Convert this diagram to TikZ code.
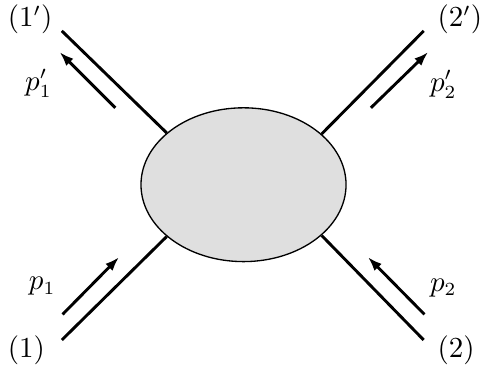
\documentclass[tikz,border=0pt]{standalone}
\usepackage{amsmath}
\usepackage{tikz}
\usetikzlibrary{shapes.geometric,arrows.meta,positioning}

\begin{document}
\begin{tikzpicture}[
  >=Latex,
  blobshape/.style={ellipse,draw=black,line width=0.5pt,fill=gray!25,
    minimum width=2.72cm,minimum height=2.04cm,inner sep=0pt},
  leg/.style={line width=1.1pt},
  mom/.style={-{Latex[length=5.4pt,width=3.8pt]},line width=1.1pt},
  lbl/.style={inner sep=0pt,font=\fontsize{10.6}{13}\selectfont}
]
% -- area fixa da figura ------------------------------------------------------
\useasboundingbox (-3.23,-2.43) rectangle (3.15,2.45);

% -- pontas externas das pernas -----------------------------------------------
\coordinate (in1)  at (-2.41,-2.06);
\coordinate (in2)  at ( 2.39,-2.06);
\coordinate (out1) at (-2.41, 2.04);
\coordinate (out2) at ( 2.39, 2.04);

% -- pernas (desenhadas antes do blob) ------------------------------------------
\node[blobshape] (blob) at (0,0) {};
\draw[leg] (out1) -- (blob.146.6);
\draw[leg] (out2) -- (blob.33.4);
\draw[leg] (in1)  -- (blob.214);
\draw[leg] (in2)  -- (blob.-33.8);

% -- setas de momento -----------------------------------------------------------
\coordinate (m1s)  at (-2.40,-1.72); \coordinate (m1e)  at (-1.65,-0.96);
\coordinate (m2s)  at ( 2.40,-1.72); \coordinate (m2e)  at ( 1.65,-0.96);
\coordinate (m1ps) at (-1.70, 1.02); \coordinate (m1pe) at (-2.44, 1.76);
\coordinate (m2ps) at ( 1.69, 1.02); \coordinate (m2pe) at ( 2.45, 1.76);
\draw[mom] (m1s)  -- (m1e);
\draw[mom] (m2s)  -- (m2e);
\draw[mom] (m1ps) -- (m1pe);
\draw[mom] (m2ps) -- (m2pe);

% -- rotulos ----------------------------------------------------------------------
\node[lbl] (L1)  at (-2.88,-2.19) {$(1)$};
\node[lbl] (L2)  at ( 2.82,-2.19) {$(2)$};
\node[lbl] (L1p) at (-2.83, 2.19) {$(1')$};
\node[lbl] (L2p) at ( 2.87, 2.19) {$(2')$};
\node[lbl] (P1)  at (-2.67,-1.35) {$p_1$};
\node[lbl] (P2)  at ( 2.65,-1.37) {$p_2$};
\node[lbl] (P1p) at (-2.72, 1.34) {$p'_1$};
\node[lbl] (P2p) at ( 2.65, 1.33) {$p'_2$};
\end{tikzpicture}
\end{document}
